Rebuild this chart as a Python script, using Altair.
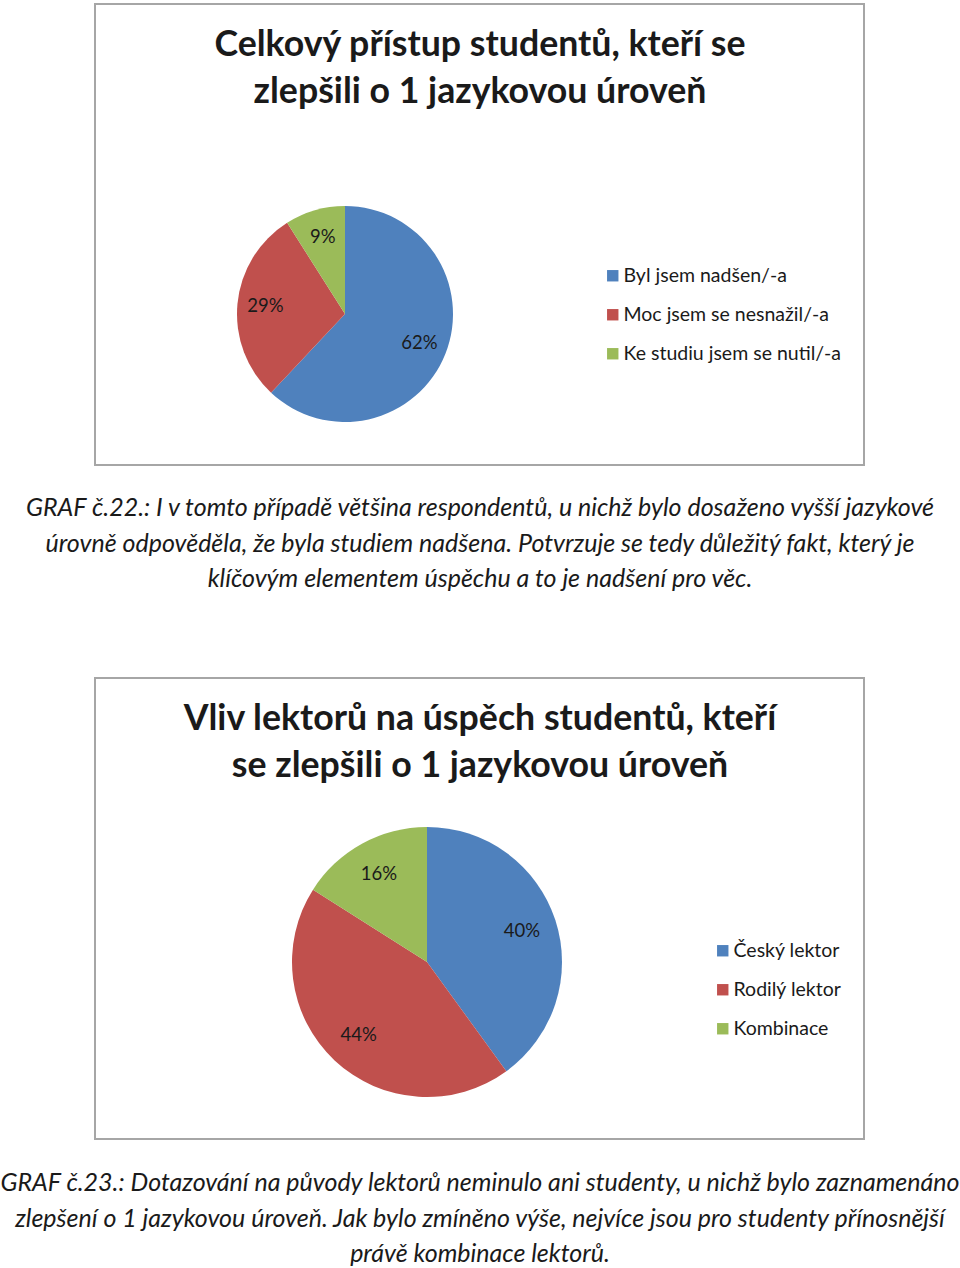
import altair as alt
import pandas as pd

# ---- data ----
title1 = ["Celkový přístup studentů, kteří se", "zlepšili o 1 jazykovou úroveň"]
cats1 = ["Byl jsem nadšen/-a", "Moc jsem se nesnažil/-a", "Ke studiu jsem se nutil/-a"]
vals1 = [62, 29, 9]
caption1 = [
    "GRAF č.22.: I v tomto případě většina respondentů, u nichž bylo dosaženo vyšší jazykové",
    "úrovně odpověděla, že byla studiem nadšena. Potvrzuje se tedy důležitý fakt, který je",
    "klíčovým elementem úspěchu a to je nadšení pro věc.",
]
title2 = ["Vliv lektorů na úspěch studentů, kteří", "se zlepšili o 1 jazykovou úroveň"]
cats2 = ["Český lektor", "Rodilý lektor", "Kombinace"]
vals2 = [40, 44, 16]
caption2 = [
    "GRAF č.23.: Dotazování na původy lektorů neminulo ani studenty, u nichž bylo zaznamenáno",
    "zlepšení o 1 jazykovou úroveň. Jak bylo zmíněno výše, nejvíce jsou pro studenty přínosnější",
    "právě kombinace lektorů.",
]
colors = ["#4F81BD", "#C0504D", "#9BBB59"]

FONT = "Lato"
TXT = "#1a1a1a"
dummy = pd.DataFrame({"a": [0]})


def box(x1, y1, x2, y2):
    return alt.Chart(dummy).mark_rect(fill="white", stroke="#a6a6a6", strokeWidth=2).encode(
        x=alt.value(x1), x2=alt.value(x2), y=alt.value(y1), y2=alt.value(y2)
    )


def text_block(lines, cx, cy, size, lh, bold=False, italic=False):
    return alt.Chart(dummy).mark_text(
        text=lines, lineHeight=lh, font=FONT, fontSize=size,
        fontWeight="bold" if bold else "normal",
        fontStyle="italic" if italic else "normal",
        align="center", baseline="middle", color=TXT,
    ).encode(x=alt.value(cx), y=alt.value(cy))


def pie(cats, vals, cx, cy, r, lx, ly):
    df = pd.DataFrame({
        "cat": cats, "val": vals, "idx": list(range(len(cats))),
        "lab": [f"{v}%" for v in vals],
    })
    base = alt.Chart(df).encode(
        theta=alt.Theta("val:Q", stack=True),
        order=alt.Order("idx:Q"),
        x=alt.value(cx), y=alt.value(cy),
    )
    arc = base.mark_arc(radius=r, stroke="white", strokeWidth=0).encode(
        color=alt.Color(
            "cat:N",
            scale=alt.Scale(domain=cats, range=colors),
            legend=alt.Legend(
                orient="none", legendX=lx, legendY=ly, title=None,
                symbolType="square", symbolSize=130, symbolStrokeWidth=0,
                labelFont=FONT, labelFontSize=19.5, labelColor=TXT, labelLimit=0,
                rowPadding=18, labelOffset=1,
            ),
        )
    )
    lab = base.mark_text(radius=r * 0.74, font=FONT, fontSize=18.5, color=TXT).encode(
        text="lab:N", detail="cat:N"
    )
    return alt.layer(arc, lab)


chart = alt.layer(
    box(95, 4, 864, 465),
    box(95, 678, 864, 1139),
    text_block(title1, 480, 45, 35.7, 47, bold=True),
    text_block(title2, 480, 719, 35.7, 47, bold=True),
    text_block(caption1, 480, 508, 25, 35.5, italic=True),
    text_block(caption2, 480, 1183, 25, 35.5, italic=True),
    pie(cats1, vals1, 345, 314, 108, 603, 266),
    pie(cats2, vals2, 427, 962, 135, 713, 941),
).resolve_scale(color="independent", theta="independent").properties(
    width=960, height=1268, padding=0, autosize="none", background="white"
).configure_view(stroke=None)

chart.save("out.html", embed_options={"renderer": "svg", "actions": False})
